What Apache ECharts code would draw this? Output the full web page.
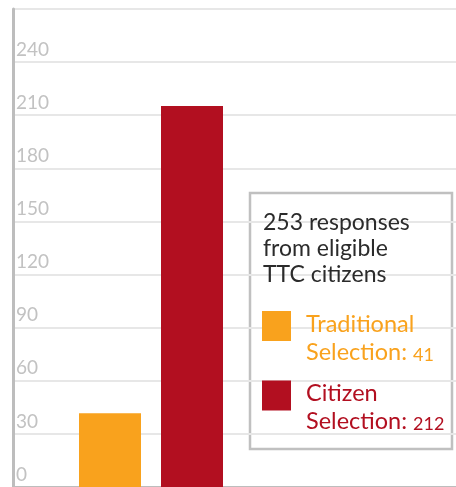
<!DOCTYPE html>
<html><head><meta charset="utf-8">
<script src="https://cdn.jsdelivr.net/npm/echarts@6/dist/echarts.min.js"></script>
<style>html,body{margin:0;padding:0;background:#fff}#c{width:456px;height:487px}</style>
</head><body><div id="c"></div>
<script>
const categories = ['Traditional Selection', 'Citizen Selection'];
const traditionalValues = [41, '-'];
const citizenValues = ['-', 212];
const legendFirstLines = ['Traditional', 'Citizen'];
const legendCounts = [41, 212];
const titleText = '253 responses\nfrom eligible\nTTC citizens';
const orange = '#F9A21D';
const red = '#B20F20';
const font = 'Lato';

const chart = echarts.init(document.getElementById('c'), null, {renderer: 'canvas'});
function legendFmt(name) {
  const i = categories.indexOf(name);
  return legendFirstLines[i] + '\nSelection: {n|' + legendCounts[i] + '}';
}
function legendCfg(i, top, color) {
  return {
    data: [categories[i]], orient: 'vertical', left: 262, top: top, padding: 0, z: 6,
    itemWidth: 29, itemHeight: 30, icon: 'rect', selectedMode: false,
    formatter: legendFmt,
    textStyle: {color: color, fontFamily: font, fontSize: 23.5, lineHeight: 28, padding: [24, 0, 0, 10],
      rich: {n: {color: color, fontFamily: font, fontSize: 18, lineHeight: 22, padding: [6, 0, 0, 0]}}}
  };
}
chart.setOption({
  animation: false,
  title: {text: titleText, left: 263, top: 210, padding: 0, z: 6,
    textStyle: {color: '#2b2b2b', fontFamily: font, fontSize: 23, fontWeight: 'normal', lineHeight: 26}},
  legend: [legendCfg(0, 286, orange), legendCfg(1, 355.5, red)],
  graphic: {z: 4, elements: [{type: 'rect', shape: {x: 250, y: 193, width: 202, height: 256},
    style: {fill: '#fff', stroke: '#c0c0c0', lineWidth: 2.5}}]},
  grid: [
    {left: 13, top: 9, right: -10, bottom: -3.5},
    {left: 69, width: 164, top: 9, bottom: -3}
  ],
  xAxis: [
    {type: 'category', gridIndex: 0, data: [''], position: 'top',
      axisLine: {show: true, lineStyle: {color: '#bdbdbd', width: 2}},
      axisTick: {show: false}, axisLabel: {show: false}, splitLine: {show: false}},
    {type: 'category', gridIndex: 1, data: categories, show: false}
  ],
  yAxis: [
    {type: 'value', gridIndex: 0, min: 0, max: 270, interval: 30,
      axisLine: {show: true, lineStyle: {color: '#bdbdbd', width: 3}},
      axisTick: {show: false},
      splitLine: {lineStyle: {color: '#e7e7e7', width: 2}},
      axisLabel: {inside: true, showMaxLabel: false, verticalAlign: 'bottom', margin: 3,
        padding: [0, 0, 3, 0], color: '#c2c2c2', fontFamily: font, fontSize: 19}},
    {type: 'value', gridIndex: 1, min: 0, max: 266, show: false}
  ],
  series: [
    {name: categories[0], type: 'bar', xAxisIndex: 1, yAxisIndex: 1, data: traditionalValues,
      barWidth: 62, barGap: '-100%', itemStyle: {color: orange}},
    {name: categories[1], type: 'bar', xAxisIndex: 1, yAxisIndex: 1, data: citizenValues,
      barWidth: 62, barGap: '-100%', itemStyle: {color: red}}
  ]
});
</script></body></html>
